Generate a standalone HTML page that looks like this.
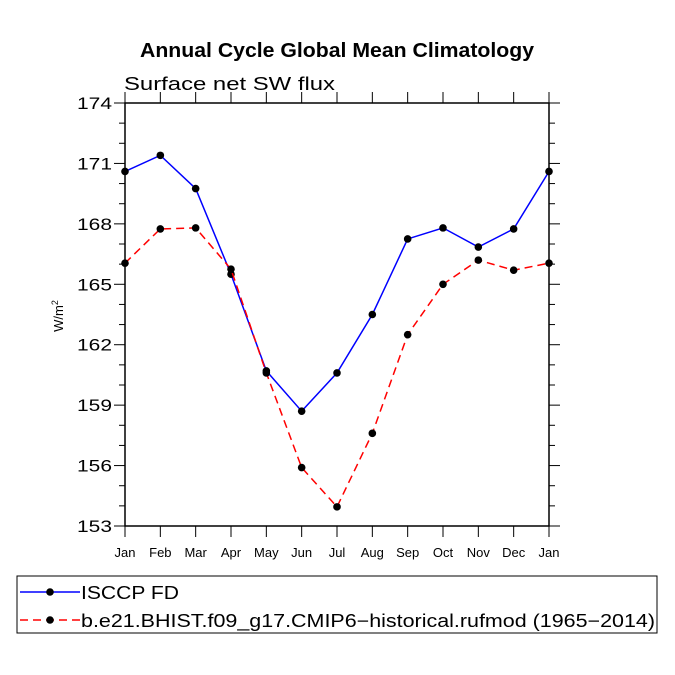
<!DOCTYPE html>
<html><head><meta charset="utf-8"><style>
body{margin:0;background:#fff}
svg{display:block;font-family:"Liberation Sans",sans-serif}
</style></head><body>
<svg id="c" width="675" height="675" viewBox="0 0 675 675">
<text x="140" y="57" textLength="394" lengthAdjust="spacingAndGlyphs" font-size="20" font-weight="bold">Annual Cycle Global Mean Climatology</text>
<text x="124" y="90" textLength="211" lengthAdjust="spacingAndGlyphs" font-size="18">Surface net SW flux</text>
<text transform="translate(63,316) rotate(-90)" text-anchor="middle" font-size="13">W/m<tspan dy="-5" font-size="9">2</tspan></text>
<g id="axes"></g>
<g id="series"></g>
<rect x="17" y="576" width="640" height="57" fill="none" stroke="#000" stroke-width="1"/>
<g>
<line x1="20" y1="592" x2="80" y2="592" stroke="#00f" stroke-width="1.5"/>
<circle cx="50" cy="592" r="3.8" fill="#000"/>
<text x="81" y="599" textLength="98" lengthAdjust="spacingAndGlyphs" font-size="18">ISCCP FD</text></g>
<g>
<line x1="20" y1="620" x2="80" y2="620" stroke="#f00" stroke-width="1.5" stroke-dasharray="8,5"/>
<circle cx="50" cy="620" r="3.8" fill="#000"/>
<text x="81" y="627" textLength="574" lengthAdjust="spacingAndGlyphs" font-size="18">b.e21.BHIST.f09_g17.CMIP6−historical.rufmod (1965−2014)</text></g>
</svg>
<script>
const months=["Jan","Feb","Mar","Apr","May","Jun","Jul","Aug","Sep","Oct","Nov","Dec","Jan"];
const isccp=[170.6,171.4,169.75,165.5,160.7,158.7,160.6,163.5,167.25,167.8,166.85,167.75,170.6];
const model=[166.05,167.75,167.8,165.75,160.6,155.9,153.95,157.6,162.5,165,166.2,165.7,166.05];
const yTicks=[153,156,159,162,165,168,171,174];
const NS="http://www.w3.org/2000/svg";
const L=125,R=549,T=103,B=526,ymin=153,ymax=174;
const xs=i=>L+(R-L)*i/(months.length-1);
const ys=v=>B-(v-ymin)/(ymax-ymin)*(B-T);
function mk(t,a,p){const e=document.createElementNS(NS,t);for(const k in a)e.setAttribute(k,a[k]);p.appendChild(e);return e;}
const ax=document.getElementById('axes');
const frame=mk('rect',{x:L,y:T,width:R-L,height:B-T,fill:'none',stroke:'#000','stroke-width':1.5},ax);


for(let v=ymin;v<=ymax;v++){const y=ys(v);const maj=(v-ymin)%3===0;const len=maj?11:6;
 mk('line',{x1:L-len,y1:y,x2:L,y2:y,stroke:'#000','stroke-width':1},ax);
 mk('line',{x1:R,y1:y,x2:R+len,y2:y,stroke:'#000','stroke-width':1},ax);}
yTicks.forEach(v=>{const t=mk('text',{x:L-13,y:ys(v)+6,'text-anchor':'end','font-size':17,textLength:35,lengthAdjust:'spacingAndGlyphs'},ax);t.textContent=v;
 
 });
months.forEach((m,i)=>{const x=xs(i);
 mk('line',{x1:x,y1:B,x2:x,y2:B+11,stroke:'#000','stroke-width':1},ax);
 mk('line',{x1:x,y1:T-11,x2:x,y2:T,stroke:'#000','stroke-width':1},ax);
 const t=mk('text',{x:x,y:B+31,'text-anchor':'middle','font-size':13},ax);t.textContent=m;
 
 });
const sg=document.getElementById('series');
function draw(vals,col,dash,name){
 const g=mk('g',{},sg);
 
 
 const a={points:vals.map((v,i)=>xs(i)+','+ys(v)).join(' '),fill:'none',stroke:col,'stroke-width':1.5};
 if(dash)a['stroke-dasharray']=dash;
 mk('polyline',a,g);
 vals.forEach((v,i)=>{const c=mk('circle',{cx:xs(i),cy:ys(v),r:3.8,fill:'#000'},g);
  
  });
}
draw(isccp,'#00f',null,'isccp-series');
draw(model,'#f00','8,5','model-series');
</script>
</body></html>
